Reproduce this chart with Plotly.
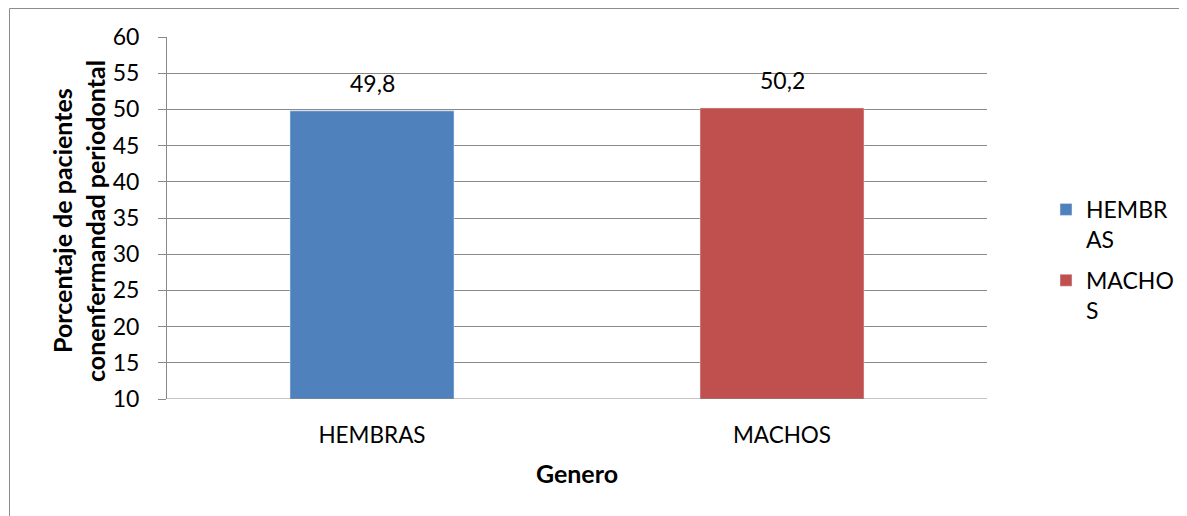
import plotly.graph_objects as go

categories = ["HEMBRAS", "MACHOS"]
values = [49.8, 50.2]
labels = ["49,8", "50,2"]
legend_names = ["HEMBR<br>AS", "MACHO<br>S"]
colors = ["#4F81BD", "#C0504D"]
y_ticks = [10, 15, 20, 25, 30, 35, 40, 45, 50, 55, 60]

# page has an 8px body margin, so the figure is shifted by 8px
OFF = 8
W, H = 1187 - OFF, 516 - OFF
ml, mt = 167 - OFF, 37 - OFF
mr = 1187 - 987
mb = H - (399 - OFF)
pw, ph = W - ml - mr, H - mt - mb

FONT = "Lato, Carlito, Calibri, sans-serif"
GRID = "#898989"

fig = go.Figure()
for cat, val, name, col in zip(categories, values, legend_names, colors):
    fig.add_trace(go.Bar(x=[cat], y=[val], name=name, marker_color=col, width=0.4,
                         legendgroup=cat))

annots = []
for cat, val, lab in zip(categories, values, labels):
    annots.append(dict(x=cat, y=val, xref="x", yref="y", text=lab, showarrow=False,
                       yanchor="bottom", yshift=12, font=dict(size=23)))

def px(xp):
    return (xp - OFF - ml) / pw

def py(yp):
    return 1 - (yp - OFF - mt) / ph

annots += [
    dict(text="<b>Porcentaje de pacientes</b>", xref="paper", yref="paper",
         x=px(62), y=py(221), textangle=-90, showarrow=False,
         xanchor="center", yanchor="middle", font=dict(size=25)),
    dict(text="<b>conenfermandad periodontal</b>", xref="paper", yref="paper",
         x=px(95), y=py(221), textangle=-90, showarrow=False,
         xanchor="center", yanchor="middle", font=dict(size=25)),
]

fig.update_layout(
    width=W, height=H,
    margin=dict(l=ml, r=mr, t=mt, b=mb, autoexpand=False),
    paper_bgcolor="white", plot_bgcolor="white",
    barmode="overlay",
    font=dict(family=FONT, size=22, color="black"),
    showlegend=True,
    legend=dict(x=px(1046), y=py(188), yanchor="top", xanchor="left",
                font=dict(size=23, family=FONT), valign="top",
                tracegroupgap=8,
                itemwidth=30, bgcolor="rgba(0,0,0,0)"),
    xaxis=dict(showline=False, ticks="", showgrid=False,
               tickfont=dict(size=22.5), ticklabelstandoff=20,
               title=dict(text="<b>Genero</b>", font=dict(size=25), standoff=18)),
    yaxis=dict(range=[10, 60], tickvals=y_ticks, showgrid=True,
               gridcolor=GRID, gridwidth=1,
               showline=True, linecolor=GRID, linewidth=1,
               ticks="outside", ticklen=8, tickcolor=GRID,
               tickfont=dict(size=23), ticklabelstandoff=14,
               zeroline=False),
    shapes=[
        dict(type="rect", xref="paper", yref="paper",
             x0=px(9.5), x1=px(1186.5), y0=py(530), y1=py(8.5),
             line=dict(color="#8C8C8C", width=1), fillcolor="rgba(0,0,0,0)", layer="below"),
        dict(type="line", xref="paper", yref="y", x0=0, x1=1, y0=10, y1=10,
             line=dict(color=GRID, width=1)),
    ],
    annotations=annots,
)

fig.write_html("out.html")
